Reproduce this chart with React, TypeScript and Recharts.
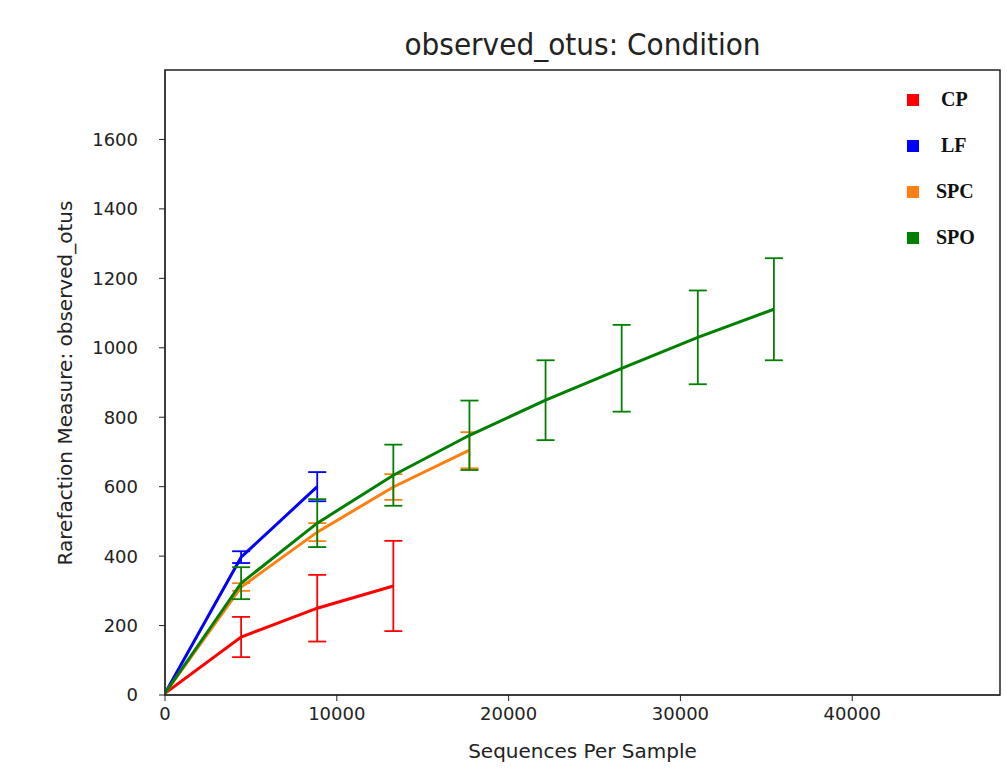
import React from "react";
import {
  LineChart,
  Line,
  XAxis,
  YAxis,
  ErrorBar,
  ReferenceArea,
} from "recharts";

// rarefaction depths (sequences per sample)
const depths = [0, 4430, 8860, 13290, 17720, 22150, 26580, 31010, 35440];

// mean observed_otus and error half-widths per condition
const cpMean = [5, 167, 250, 314];
const cpErr = [0, 58, 96, 130];
const lfMean = [5, 397, 600];
const lfErr = [0, 17, 42];
const spcMean = [5, 311, 469, 599, 705];
const spcErr = [0, 11, 26, 37, 52];
const spoMean = [5, 322, 495, 633, 748, 849, 941, 1030, 1111];
const spoErr = [0, 46, 69, 88, 100, 115, 125, 135, 147];

const xTicks = [0, 10000, 20000, 30000, 40000];
const yTicks = [0, 200, 400, 600, 800, 1000, 1200, 1400, 1600];

const X_MAX = 48600;
const Y_MAX = 1800;

const build = (mean: number[], err: number[]) =>
  mean.map((v, i) => ({ x: depths[i], y: v, err: err[i] }));

const series = [
  { name: "CP", color: "#ff0000", data: build(cpMean, cpErr) },
  { name: "LF", color: "#0000ff", data: build(lfMean, lfErr) },
  { name: "SPC", color: "#ff7f0e", data: build(spcMean, spcErr) },
  { name: "SPO", color: "#008000", data: build(spoMean, spoErr) },
];

const font = "'DejaVu Sans', sans-serif";

export default function App() {
  return (
    <div
      style={{
        position: "absolute",
        left: 0,
        top: 0,
        width: 1007,
        height: 778,
        background: "#fff",
        fontFamily: font,
      }}
    >
      <div
        style={{
          position: "absolute",
          left: 165,
          width: 835,
          top: 29,
          textAlign: "center",
          fontSize: 28,
          color: "#222",
          transform: "scaleY(1.05)",
        }}
      >
        observed_otus: Condition
      </div>
      <div
        style={{
          position: "absolute",
          left: 165,
          width: 835,
          top: 739,
          textAlign: "center",
          fontSize: 20,
          color: "#222",
        }}
      >
        Sequences Per Sample
      </div>
      <div
        style={{
          position: "absolute",
          left: 65,
          top: 383,
          transform: "translate(-50%, -50%) rotate(-90deg)",
          whiteSpace: "nowrap",
          fontSize: 20,
          color: "#222",
        }}
      >
        Rarefaction Measure: observed_otus
      </div>

      <LineChart
        width={1007}
        height={778}
        margin={{ top: 70, right: 7, bottom: 43, left: 65 }}
        style={{ position: "absolute", left: 0, top: 0 }}
      >
        <XAxis
          type="number"
          dataKey="x"
          domain={[0, X_MAX]}
          ticks={xTicks}
          allowDataOverflow
          height={40}
          stroke="#222"
          tickSize={6}
          tickMargin={6}
          tick={{ fill: "#222", fontSize: 18, fontFamily: font }}
        />
        <YAxis
          type="number"
          dataKey="y"
          domain={[0, Y_MAX]}
          ticks={yTicks}
          allowDataOverflow
          width={100}
          stroke="#222"
          tickSize={6}
          tickMargin={21}
          tick={{ fill: "#222", fontSize: 18, fontFamily: font }}
        />
        <ReferenceArea
          x1={0}
          x2={X_MAX}
          y1={0}
          y2={Y_MAX}
          fill="none"
          stroke="#222"
          strokeWidth={1.5}
        />
        {series.map((s) => (
          <Line
            key={s.name}
            data={s.data}
            dataKey="y"
            name={s.name}
            stroke={s.color}
            strokeWidth={3}
            dot={false}
            activeDot={false}
            isAnimationActive={false}
          >
            <ErrorBar
              dataKey="err"
              direction="y"
              width={9}
              stroke={s.color}
              strokeWidth={1.8}
              isAnimationActive={false}
            />
          </Line>
        ))}
      </LineChart>

      {series.map((s, i) => (
        <div
          key={s.name}
          style={{
            position: "absolute",
            left: 907,
            top: 88 + i * 46,
            display: "flex",
            alignItems: "center",
            fontFamily: "'Liberation Serif', serif",
            fontWeight: "bold",
            fontSize: 20,
            color: "#111",
          }}
        >
          <span
            style={{
              display: "inline-block",
              width: 12,
              height: 12,
              background: s.color,
              marginRight: 17,
            }}
          />
          <span style={{ marginLeft: s.name.length === 2 ? 5 : 0 }}>
            {s.name}
          </span>
        </div>
      ))}
    </div>
  );
}
